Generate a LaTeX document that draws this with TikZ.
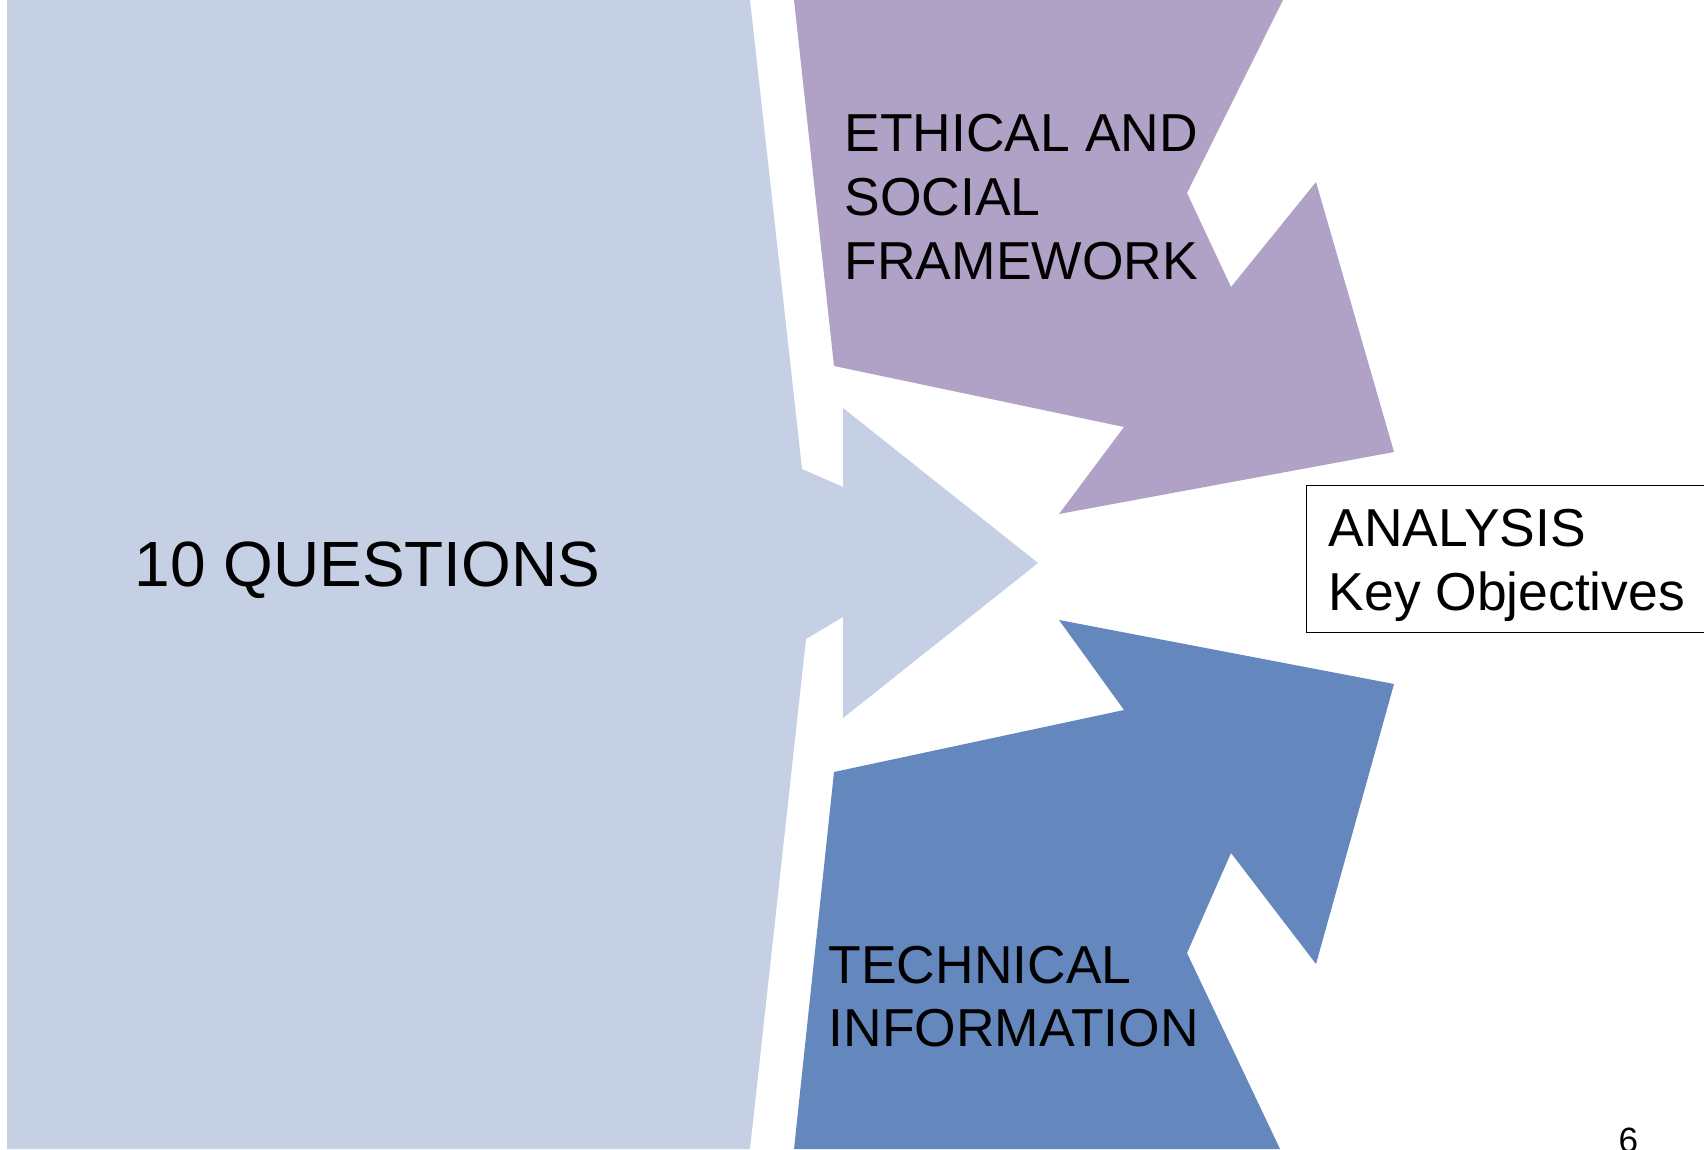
\documentclass[tikz,border=0pt]{standalone}
\usepackage{fontspec}
\setmainfont{Liberation Sans}
\usepackage{xcolor}
\usetikzlibrary{positioning}

\definecolor{questionblue}{HTML}{C5D0E5}
\definecolor{ethicpurple}{HTML}{B0A1C6}
\definecolor{techblue}{HTML}{6488BE}

\tikzset{
  blocktext/.style={inner sep=0pt, anchor=north west, align=left,
    font=\fontsize{15.2}{18.1}\selectfont},
}

\begin{document}
\begin{tikzpicture}
\useasboundingbox (0,0) rectangle (17.04,11.49);
% left block with its arrow head
\fill[questionblue] (0.07,11.49) -- (7.50,11.49) -- (8.02,6.80) -- (8.43,6.62)
  -- (8.43,7.41) -- (10.38,5.86) -- (8.43,4.31) -- (8.43,5.32) -- (8.06,5.10)
  -- (7.50,0) -- (0.07,0) -- cycle;
\node[anchor=base west, inner sep=0pt, font=\fontsize{18.2}{21}\selectfont]
  (questions) at (1.34,5.62) {10 QUESTIONS};

% upper arrow: ethics
\fill[ethicpurple] (7.94,11.49) -- (12.83,11.49) -- (11.87,9.56) -- (12.31,8.62)
  -- (13.16,9.67) -- (13.94,6.97) -- (10.59,6.35) -- (11.24,7.22) -- (8.34,7.83) -- cycle;
\node[blocktext] (ethics) at (8.44,10.35) {ETHICAL AND\\SOCIAL\\FRAMEWORK};

% lower arrow: technical
\fill[techblue] (10.59,5.29) -- (13.94,4.65) -- (13.16,1.85) -- (12.31,2.96)
  -- (11.87,1.96) -- (12.80,0) -- (7.94,0) -- (8.34,3.77) -- (11.24,4.39) -- cycle;
\node[blocktext] (technical) at (8.28,2.04) {TECHNICAL\\INFORMATION};

% target box (strut gives the extra room above the first line)
\node[blocktext, draw, inner xsep=0.22cm, inner ysep=0.11cm, minimum width=3.96cm]
  (analysis) at (13.06,6.64) {\rule{0pt}{0.50cm}ANALYSIS\\Key Objectives};

\node[anchor=base west, inner sep=0pt, font=\fontsize{10}{12}\selectfont]
  (pagenum) at (16.18,-0.03) {6};
\end{tikzpicture}
\end{document}
